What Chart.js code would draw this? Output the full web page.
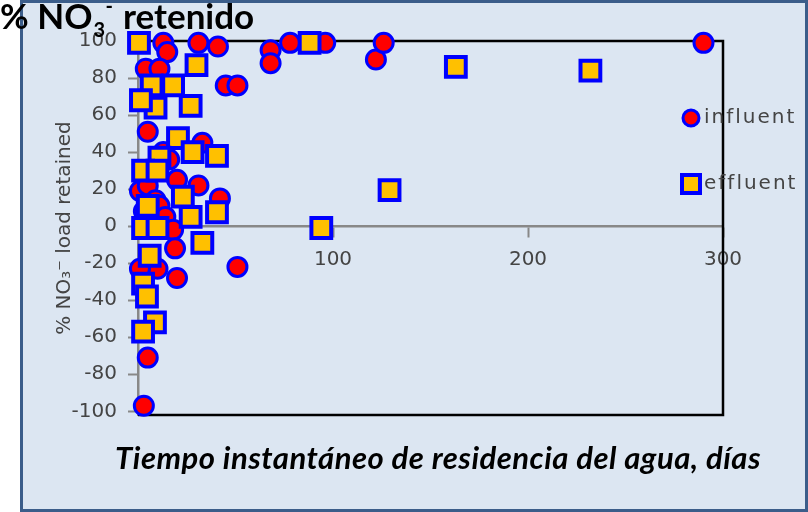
<!DOCTYPE html>
<html>
<head>
<meta charset="utf-8">
<script src="https://cdn.jsdelivr.net/npm/chart.js@4"></script>
<style>
  html, body { margin: 0; padding: 0; background: #fff; }
  #chart { display: block; }
</style>
</head>
<body>
<canvas id="chart" width="808" height="512"></canvas>
<script>
// data
const seriesNames = ['influent', 'effluent'];
const influentX = [13, 15, 31, 41, 68, 68, 78, 96, 122, 126, 290, 4, 11, 45, 51, 5, 33, 13, 16, 20, 31, 42, 1, 5, 9, 3, 11, 14, 4, 18, 19, 10, 1, 20, 51, 5, 3];
const influentY = [99, 94, 99, 97, 95, 88, 99, 99, 90, 99, 99, 85, 85, 76, 76, 51, 45, 40, 36, 25, 22, 15, 19, 22, 14, 8, 11, 5, 2, -2, -12, -23, -23, -28, -22, -71, -97];
const effluentX = [0.5, 88, 163, 232, 129, 94, 30, 7, 18, 27, 9, 1.5, 20.5, 28, 40.5, 11, 2.6, 10, 23, 27, 40.5, 33, 2.6, 10, 6, 2.6, 4.6, 8.7, 2.6, 5];
const effluentY = [99, 99, 86, 84, 19.5, -1, 87, 76, 76, 65, 64, 68, 47.5, 40, 38, 37, 30, 30, 16, 5, 7.5, -9, -1, -1, -16, -31, -38, -52, -57, 11];
const xTicks = [100, 200, 300];
const yTicks = [100, 80, 60, 40, 20, 0, -20, -40, -60, -80, -100];

const toPoints = (xs, ys) => xs.map((x, i) => ({ x: x, y: ys[i] }));

const RED = '#ff0000', BLUE = '#0000ff', GOLD = '#ffc000';

const decor = {
  id: 'decor',
  beforeDraw(chart) {
    const ctx = chart.ctx;
    ctx.save();
    ctx.fillStyle = '#fff';
    ctx.fillRect(0, 0, chart.width, chart.height);
    ctx.fillStyle = '#dce6f2';
    ctx.fillRect(21.5, 1.5, 785, 509);
    ctx.strokeStyle = '#3b5d8a';
    ctx.lineWidth = 3;
    ctx.strokeRect(21.5, 1.5, 785, 509);
    ctx.restore();
  },
  beforeDatasetsDraw(chart) {
    // black frame on top, right and bottom of the plot
    const { ctx, chartArea: a } = chart;
    ctx.save();
    ctx.strokeStyle = '#000';
    ctx.lineWidth = 2.5;
    ctx.beginPath();
    ctx.moveTo(a.left, a.top);
    ctx.lineTo(a.right, a.top);
    ctx.lineTo(a.right, a.bottom);
    ctx.lineTo(a.left, a.bottom);
    ctx.stroke();
    ctx.restore();
  },
  afterDraw(chart) {
    const ctx = chart.ctx;
    ctx.save();
    // main title
    ctx.fillStyle = '#000';
    ctx.textBaseline = 'alphabetic';
    ctx.textAlign = 'left';
    ctx.font = 'bold 35px Lato';
    ctx.fillText('% NO', 0, 29);
    const w = ctx.measureText('% NO').width;
    ctx.font = 'bold 20px Lato';
    ctx.fillText('3', w + 1, 37);
    ctx.fillText('-', w + 13, 13);
    ctx.font = 'bold 35px Lato';
    ctx.fillText('retenido', 123, 29);

    // x title
    ctx.font = 'italic bold 31px Lato';
    ctx.textAlign = 'center';
    ctx.letterSpacing = '0.5px';
    ctx.fillText('Tiempo instantáneo de residencia del agua, días', 438, 469);

    // legend
    const ds = chart.data.datasets;
    ctx.lineWidth = 3;
    ctx.fillStyle = RED;
    ctx.strokeStyle = BLUE;
    ctx.beginPath();
    ctx.arc(691, 118, 8, 0, Math.PI * 2);
    ctx.fill();
    ctx.stroke();
    ctx.lineWidth = 4;
    ctx.fillStyle = GOLD;
    ctx.beginPath();
    ctx.rect(682, 175, 18, 18);
    ctx.fill();
    ctx.stroke();
    ctx.fillStyle = '#444';
    ctx.font = '20px "DejaVu Sans"';
    ctx.textAlign = 'left';
    ctx.textBaseline = 'middle';
    ctx.letterSpacing = '2px';
    ctx.fillText(ds[0].label, 704, 118);
    ctx.fillText(ds[1].label, 704, 184);
    ctx.restore();
  }
};

new Chart(document.getElementById('chart'), {
  type: 'scatter',
  data: {
    datasets: [
      {
        label: seriesNames[0],
        data: toPoints(influentX, influentY),
        order: 2,
        clip: false,
        pointStyle: 'circle',
        pointRadius: 9.5,
        pointHoverRadius: 9.5,
        pointBorderWidth: 3,
        backgroundColor: RED,
        borderColor: BLUE
      },
      {
        label: seriesNames[1],
        data: toPoints(effluentX, effluentY),
        order: 1,
        clip: false,
        pointStyle: 'rect',
        pointRadius: 14,
        pointHoverRadius: 14,
        pointBorderWidth: 4,
        backgroundColor: GOLD,
        borderColor: BLUE
      }
    ]
  },
  options: {
    responsive: false,
    animation: false,
    events: [],
    layout: { padding: { top: 41, right: 85, bottom: 97, left: 0 } },
    plugins: {
      legend: { display: false },
      tooltip: { enabled: false }
    },
    scales: {
      x: {
        type: 'linear',
        position: { y: 0 },
        min: 0,
        max: 300,
        afterBuildTicks: s => { s.ticks = xTicks.map(v => ({ value: v })); },
        border: { color: '#888', width: 2.5 },
        grid: { drawOnChartArea: false, color: '#888', tickLength: 10, tickWidth: 2 },
        ticks: { color: '#444', font: { family: 'DejaVu Sans', size: 20 }, padding: 12, maxRotation: 0 }
      },
      y: {
        min: -102,
        max: 100,
        afterFit: s => { s.width = 138; },
        afterBuildTicks: s => { s.ticks = yTicks.map(v => ({ value: v })); },
        border: { color: '#888', width: 2.5 },
        grid: { drawOnChartArea: false, color: '#888', tickLength: 10, tickWidth: 2 },
        ticks: { color: '#444', font: { family: 'DejaVu Sans', size: 20 }, padding: 11 },
        title: {
          display: true,
          text: '% NO₃⁻ load retained',
          color: '#444',
          font: { family: 'DejaVu Sans', size: 20 },
          padding: { top: 53, bottom: 0 }
        }
      }
    }
  },
  plugins: [decor]
});
</script>
</body>
</html>
